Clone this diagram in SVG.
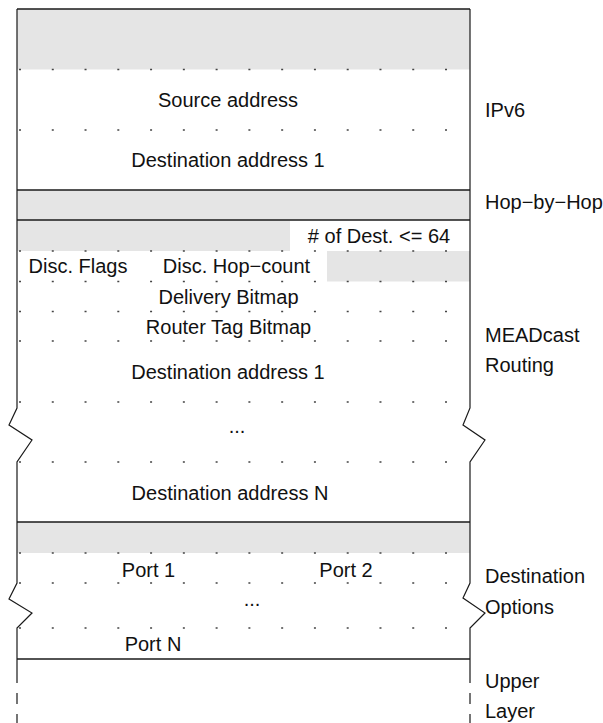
<svg xmlns="http://www.w3.org/2000/svg" width="603" height="723" viewBox="0 0 603 723">
  <style>
    .band { fill: #e5e5e5; }
    .rule { stroke: #1a1a1a; stroke-width: 1.6; fill: none; }
    .side { stroke: #1a1a1a; stroke-width: 1.2; fill: none; }
    .dots { stroke: #444; stroke-width: 1.3; stroke-dasharray: 2 30.77; fill: none; }
    text { font-family: "Liberation Sans", Arial, sans-serif; font-size: 20px; fill: #111; }
    .c { text-anchor: middle; }
  </style>

  <!-- shaded (reserved / header) areas -->
  <g id="shading">
    <rect class="band" x="17" y="9" width="453" height="60.5"/>
    <rect class="band" x="17" y="190" width="453" height="30"/>
    <rect class="band" x="17" y="220" width="273" height="31"/>
    <rect class="band" x="327" y="251" width="143" height="30.5"/>
    <rect class="band" x="17" y="522" width="453" height="31"/>
  </g>

  <!-- dotted 32-bit word separators -->
  <g id="word-rows">
    <line class="dots" x1="19" y1="69.5" x2="448" y2="69.5"/>
    <line class="dots" x1="19" y1="130" x2="448" y2="130"/>
    <line class="dots" x1="19" y1="251" x2="448" y2="251"/>
    <line class="dots" x1="19" y1="281.5" x2="448" y2="281.5"/>
    <line class="dots" x1="19" y1="311.5" x2="448" y2="311.5"/>
    <line class="dots" x1="19" y1="341" x2="448" y2="341"/>
    <line class="dots" x1="19" y1="402" x2="448" y2="402"/>
    <line class="dots" x1="19" y1="462" x2="448" y2="462"/>
    <line class="dots" x1="19" y1="553" x2="448" y2="553"/>
    <line class="dots" x1="19" y1="583" x2="448" y2="583"/>
    <line class="dots" x1="19" y1="628" x2="448" y2="628"/>
  </g>

  <!-- header boundaries -->
  <g id="boundaries">
    <line class="rule" x1="17" y1="9" x2="470" y2="9"/>
    <line class="rule" x1="17" y1="190" x2="470" y2="190"/>
    <line class="rule" x1="17" y1="220" x2="470" y2="220"/>
    <line class="rule" x1="17" y1="522" x2="470" y2="522"/>
    <line class="rule" x1="17" y1="659" x2="470" y2="659"/>
  </g>

  <!-- packet side edges with break marks -->
  <g id="edges">
    <path class="side" d="M17,9 V408 L9,425 L32,440 L17,462 V583 L9,599 L32,613 L17,628 V683 M17,693 V704 M17,714 V725"/>
    <path class="side" d="M470,9 V408 L463,425 L485,440 L470,462 V583 L463,598 L485,613 L470,628 V683 M470,693 V704 M470,714 V725"/>
  </g>

  <g id="ipv6">
    <text class="c" x="228" y="107">Source address</text>
    <text class="c" x="228" y="166.5">Destination address 1</text>
    <text x="485" y="117">IPv6</text>
  </g>

  <g id="hop-by-hop">
    <text x="485" y="209">Hop−by−Hop</text>
  </g>

  <g id="meadcast-routing">
    <text class="c" x="379" y="243"># of Dest. &lt;= 64</text>
    <text class="c" x="78" y="272.5">Disc. Flags</text>
    <text class="c" x="236.5" y="272.5">Disc. Hop−count</text>
    <text class="c" x="228.5" y="304">Delivery Bitmap</text>
    <text class="c" x="228.5" y="333.5">Router Tag Bitmap</text>
    <text class="c" x="228" y="378.5">Destination address 1</text>
    <text class="c" x="237" y="433">...</text>
    <text class="c" x="230" y="500">Destination address N</text>
    <text x="485" y="342">MEADcast</text>
    <text x="485" y="372">Routing</text>
  </g>

  <g id="destination-options">
    <text class="c" x="148.5" y="576.5">Port 1</text>
    <text class="c" x="346" y="576.5">Port 2</text>
    <text class="c" x="252" y="606">...</text>
    <text class="c" x="153" y="651">Port N</text>
    <text x="485" y="583">Destination</text>
    <text x="485" y="614">Options</text>
  </g>

  <g id="upper-layer">
    <text x="485" y="688">Upper</text>
    <text x="485" y="718">Layer</text>
  </g>
</svg>
